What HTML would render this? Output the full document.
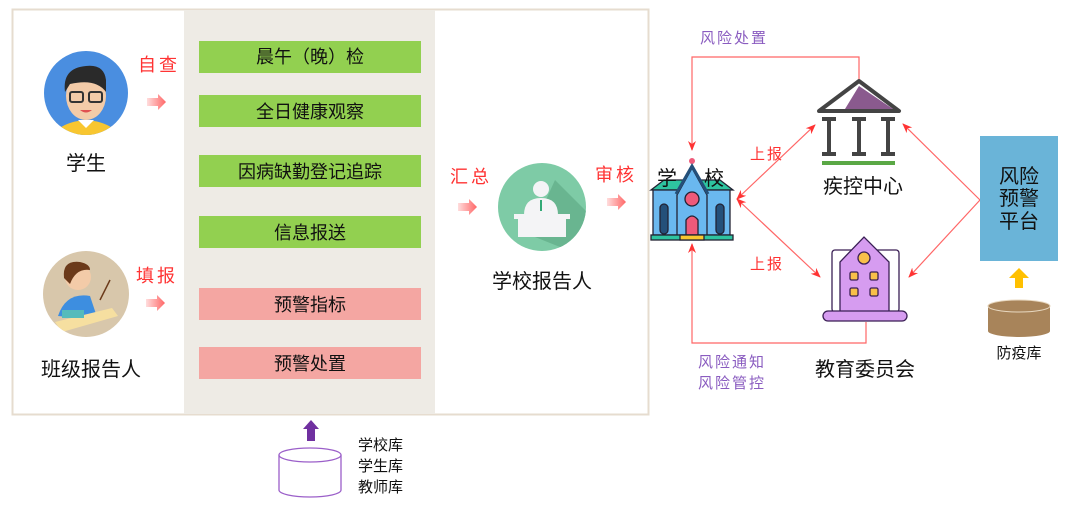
<!DOCTYPE html>
<html><head><meta charset="utf-8"><style>
html,body{margin:0;padding:0;background:#fff}
svg{display:block}
text{font-family:"Liberation Sans","Noto Sans CJK SC",sans-serif}
</style></head><body>
<svg width="1080" height="509" viewBox="0 0 1080 509" xmlns="http://www.w3.org/2000/svg">
<defs>
<marker id="ah" markerWidth="10" markerHeight="10" refX="9" refY="5" orient="auto-start-reverse" markerUnits="userSpaceOnUse"><path d="M0,1 L10,5 L0,9 L3,5 Z" fill="#f33"/></marker>
<linearGradient id="pa" x1="0" x2="1"><stop offset="0" stop-color="#fdd"/><stop offset="1" stop-color="#f66"/></linearGradient>
<clipPath id="c1"><circle cx="86" cy="93" r="42"/></clipPath>
<clipPath id="c2"><circle cx="86" cy="294" r="43"/></clipPath>
<clipPath id="c3"><circle cx="542" cy="207" r="44"/></clipPath>
</defs>
<!-- outer box -->
<rect x="12.5" y="9.5" width="636" height="405" fill="#fff" stroke="#e6dccf" stroke-width="2"/>
<rect x="184" y="10" width="251" height="404" fill="#eeebe5"/>
<!-- boxes -->
<g font-size="18" text-anchor="middle" fill="#111">
<rect x="199" y="41" width="222" height="32" fill="#92d050"/><text x="310" y="63">晨午（晚）检</text>
<rect x="199" y="95" width="222" height="32" fill="#92d050"/><text x="310" y="118">全日健康观察</text>
<rect x="199" y="155" width="222" height="32" fill="#92d050"/><text x="310" y="178">因病缺勤登记追踪</text>
<rect x="199" y="216" width="222" height="32" fill="#92d050"/><text x="310" y="239">信息报送</text>
<rect x="199" y="288" width="222" height="32" fill="#f4a6a2"/><text x="310" y="311">预警指标</text>
<rect x="199" y="347" width="222" height="32" fill="#f4a6a2"/><text x="310" y="370">预警处置</text>
</g>
<!-- student avatar -->
<circle cx="86" cy="93" r="42" fill="#4a8ee0"/>
<g clip-path="url(#c1)">
<path d="M50,140 Q58,122 86,120 Q114,122 122,140 Z" fill="#f8c630"/>
<path d="M78,120 L86,128 L94,120 Z" fill="#fff"/>
<ellipse cx="86" cy="96" rx="20" ry="24" fill="#f3cba8"/>
<path d="M65,92 Q62,68 86,66 Q104,64 106,80 L106,92 Q96,78 70,84 Z" fill="#2a2a2a"/>
<rect x="70" y="92" width="13" height="10" rx="2" fill="none" stroke="#333" stroke-width="2"/>
<rect x="89" y="92" width="13" height="10" rx="2" fill="none" stroke="#333" stroke-width="2"/>
<path d="M80,110 Q86,115 92,110 Z" fill="#e05050"/>
</g>
<!-- class reporter avatar -->
<circle cx="86" cy="294" r="43" fill="#d8c7ab"/>
<g clip-path="url(#c2)">
<path d="M58,316 Q66,292 90,296 L98,320 Z" fill="#3d8ee0"/>
<path d="M55,322 L112,308 L118,316 L62,332 Z" fill="#f6dfa0"/>
<rect x="62" y="310" width="22" height="8" fill="#5bb"/>
<circle cx="78" cy="277" r="13" fill="#f3cba8"/>
<path d="M64,278 Q62,260 80,262 Q90,264 90,270 Q76,268 70,284 Z" fill="#6b3a1a"/>
<line x1="100" y1="300" x2="110" y2="280" stroke="#6b3a1a" stroke-width="1.5"/>
</g>
<text x="86" y="170" font-size="20" text-anchor="middle" fill="#111">学生</text>
<text x="91" y="376" font-size="20" text-anchor="middle" fill="#111">班级报告人</text>
<g font-size="18" fill="#f33" font-family="Liberation Serif">
<text x="138" y="71" letter-spacing="3">自查</text>
<text x="136" y="282" letter-spacing="3">填报</text>
<text x="450" y="183" letter-spacing="3">汇总</text>
<text x="595" y="181" letter-spacing="3">审核</text>
</g>
<g fill="url(#pa)">
<path d="M147,98 L158,98 L158,94 L166,102 L158,110 L158,106 L147,106 Z"/>
<path d="M146,299 L157,299 L157,295 L165,303 L157,311 L157,307 L146,307 Z"/>
<path d="M458,203 L469,203 L469,199 L477,207 L469,215 L469,211 L458,211 Z"/>
<path d="M607,198 L618,198 L618,194 L626,202 L618,210 L618,206 L607,206 Z"/>
</g>
<!-- school reporter -->
<circle cx="542" cy="207" r="44" fill="#7ecba6"/>
<g clip-path="url(#c3)"><path d="M555,180 L600,225 L580,255 L530,235 Z" fill="#69b590"/></g>
<circle cx="541" cy="189" r="8" fill="#f4f4f6"/>
<path d="M524,215 Q524,198 541,198 Q558,198 558,215 Z" fill="#f4f4f6"/>
<line x1="541" y1="200" x2="541" y2="211" stroke="#3a7" stroke-width="2"/>
<rect x="514" y="214" width="56" height="5" fill="#f4f4f6"/>
<rect x="518" y="219" width="48" height="18" fill="#f4f4f6"/>
<text x="542" y="288" font-size="20" text-anchor="middle" fill="#111">学校报告人</text>
<!-- bottom database -->
<path d="M311,420 L319,429 L315,429 L315,441 L307,441 L307,429 L303,429 Z" fill="#7030a0"/>
<path d="M279,455 L279,490 A31,7 0 0 0 341,490 L341,455" fill="#fff" stroke="#9b5fc9" stroke-width="1.3"/>
<ellipse cx="310" cy="455" rx="31" ry="7" fill="#fff" stroke="#9b5fc9" stroke-width="1.3"/>
<g font-size="15" fill="#111"><text x="358" y="450">学校库</text><text x="358" y="471">学生库</text><text x="358" y="492">教师库</text></g>
<!-- right connectors -->
<g stroke="#f66" stroke-width="1.2" fill="none">
<path d="M859,80 L859,57 L692,57 L692,150" marker-end="url(#ah)"/>
<path d="M866,322 L866,343 L692,343 L692,244" marker-end="url(#ah)"/>
<line x1="737" y1="199" x2="815" y2="125" marker-start="url(#ah)" marker-end="url(#ah)"/>
<line x1="737" y1="199" x2="820" y2="277" marker-start="url(#ah)" marker-end="url(#ah)"/>
<line x1="980" y1="200" x2="903" y2="124" marker-end="url(#ah)"/>
<line x1="980" y1="200" x2="909" y2="277" marker-end="url(#ah)"/>
</g>
<g font-size="15" fill="#8a5cc0"><text x="700" y="43" letter-spacing="2">风险处置</text><text x="698" y="367" letter-spacing="2">风险通知</text><text x="698" y="388" letter-spacing="2">风险管控</text></g>
<g font-size="15" fill="#f33"><text x="750" y="159" letter-spacing="2">上报</text><text x="750" y="269" letter-spacing="2">上报</text></g>
<!-- school icon -->
<g stroke="#223" stroke-width="1.3">
<path d="M651,190 L664,180 L720,180 L733,190 Z" fill="#2ec4a0"/>
<rect x="653" y="190" width="77" height="45" fill="#6ab8ef"/>
<path d="M677,195 L692,168 L707,195 L707,235 L677,235 Z" fill="#6ab8ef"/>
<circle cx="692" cy="199" r="7" fill="#ef5a7a"/>
<path d="M686,235 L686,220 Q692,212 698,220 L698,235 Z" fill="#ef5a7a"/>
<rect x="660" y="204" width="8" height="30" rx="4" fill="#24507a"/>
<rect x="716" y="204" width="8" height="30" rx="4" fill="#24507a"/>
<rect x="651" y="235" width="82" height="5" fill="#2ec4a0"/>
<rect x="680" y="235" width="24" height="5" fill="#f8c630"/>
</g>
<circle cx="692" cy="161" r="3" fill="#ef5a7a"/>
<path d="M676,194 L692,166 L708,194" fill="none" stroke="#24507a" stroke-width="3"/>
<text x="657" y="185" font-size="20" fill="#111">学</text>
<text x="704" y="185" font-size="20" fill="#111">校</text>
<!-- CDC icon -->
<path d="M819,111 L859,81 L899,111 Z" fill="#fff" stroke="#444" stroke-width="4" stroke-linejoin="round"/>
<path d="M845,109 L859,86 L893,109 Z" fill="#8a5a8e"/>
<g stroke="#444" stroke-width="4"><line x1="829" y1="119" x2="829" y2="154"/><line x1="859" y1="119" x2="859" y2="154"/><line x1="888" y1="119" x2="888" y2="154"/>
<line x1="822" y1="119" x2="836" y2="119"/><line x1="852" y1="119" x2="866" y2="119"/><line x1="881" y1="119" x2="895" y2="119"/>
<line x1="822" y1="154" x2="836" y2="154"/><line x1="852" y1="154" x2="866" y2="154"/><line x1="881" y1="154" x2="895" y2="154"/></g>
<rect x="822" y="161" width="73" height="4" fill="#5aa845"/>
<text x="863" y="193" font-size="20" text-anchor="middle" fill="#111">疾控中心</text>
<!-- edu icon -->
<g stroke="#3a1f55" stroke-width="1.3">
<rect x="832" y="250" width="67" height="62" rx="3" fill="#fff"/>
<path d="M840,312 L840,262 L864,237 L889,262 L889,312 Z" fill="#d69cf0"/>
<circle cx="864" cy="258" r="6" fill="#f8c04a"/>
<rect x="850" y="272" width="8" height="8" rx="1.5" fill="#f8c04a"/><rect x="870" y="272" width="8" height="8" rx="1.5" fill="#f8c04a"/>
<rect x="850" y="288" width="8" height="8" rx="1.5" fill="#f8c04a"/><rect x="870" y="288" width="8" height="8" rx="1.5" fill="#f8c04a"/>
<rect x="823" y="311" width="84" height="10" rx="5" fill="#d69cf0"/>
</g>
<text x="865" y="376" font-size="20" text-anchor="middle" fill="#111">教育委员会</text>
<!-- platform -->
<rect x="980" y="136" width="78" height="125" fill="#6ab4d8"/>
<g font-size="20" text-anchor="middle" fill="#111"><text x="1019" y="183">风险</text><text x="1019" y="205">预警</text><text x="1019" y="228">平台</text></g>
<path d="M1019,268 L1029,278 L1023,278 L1023,288 L1015,288 L1015,278 L1009,278 Z" fill="#ffc000"/>
<path d="M988,306 L988,331 A31,6 0 0 0 1050,331 L1050,306 Z" fill="#a8845a"/>
<ellipse cx="1019" cy="306" rx="31" ry="6" fill="#a8845a" stroke="#e8d8c0" stroke-width="1"/>
<text x="1019" y="358" font-size="15" text-anchor="middle" fill="#111">防疫库</text>
</svg>
</body></html>
